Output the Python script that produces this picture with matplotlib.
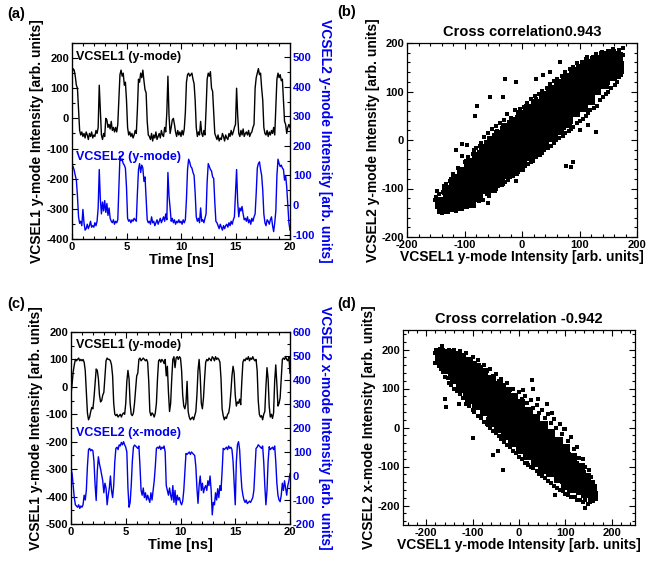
import numpy as np
import matplotlib
matplotlib.use('Agg')
import matplotlib.pyplot as plt
from matplotlib.ticker import MultipleLocator

plt.rcParams['font.family'] = ['Liberation Sans', 'DejaVu Sans']
plt.rcParams['font.weight'] = 'bold'
plt.rcParams['axes.labelweight'] = 'bold'
plt.rcParams['axes.titleweight'] = 'bold'
plt.rcParams['axes.unicode_minus'] = False

BLUE = '#0000f0'

# time axis, 0.1 ns steps
t = np.linspace(0, 20, 201)

# (a) VCSEL1 y-mode (left axis)
a_vcsel1 = [150, 165, 160, 140, 110, 100, 30, -40, -55, -45,
            -60, -50, -65, -45, -55, -70, -50, -60, -45, -65,
            -55, -60, -40, -50, -30, 110, 30, -55, -70, -50,
            -60, 0, -5, -30, -20, -35, -10, -40, -30, -45,
            -30, -45, -20, 60, 145, 160, 140, 150, 110, 120,
            60, -30, -55, -45, -60, -50, -65, -55, -40, -50,
            30, 130, 120, 150, 135, 160, 125, 95, 85, -10,
            -55, -60, -70, -50, -75, -55, -65, -45, -70, -60,
            -50, -65, -40, -55, -60, -30, -45, 20, 140, 10,
            -50, -30, -5, 0, -20, -45, -60, -40, -55, -45,
            -60, -40, -55, -35, 20, 120, 145, 150, 140, 145,
            150, 130, 115, 60, -30, -60, -45, -55, -10, -50,
            -60, -40, -55, 30, 130, 150, 140, 155, 100, 90,
            20, -50, -60, -70, -55, -75, -65, -70, -50, -60,
            -75, -55, -65, -70, -50, -60, -40, -55, -45, -30,
            -20, 100, 10, -50, -60, -40, -55, -35, -60, -50,
            -45, -55, -40, -60, -50, -45, -30, -20, 100, 135,
            150, 165, 145, 150, 100, 60, -30, -50, -55, -40,
            -60, -45, -55, -40, -50, -30, -55, 40, 130, 150,
            135, 145, 125, 130, 60, -10, -20, -50, -30, -20,
            -30]

# (a) VCSEL2 y-mode (right axis)
a_vcsel2 = [135, 130, 118, 100, 84, 30, -40, -62, -55, -70,
            -15, -60, -85, -80, -65, -80, -70, -55, -75, -70,
            -75, -60, -70, -55, -10, 120, 20, -30, 10, -20,
            15, -25, 5, -35, -10, -45, -55, -60, -50, -65,
            -55, -60, -50, 60, 165, 150, 155, 140, 135, 125,
            60, -45, -55, -50, -60, -50, -55, -45, -50, -55,
            40, 120, 140, 110, 135, 125, 80, 95, 20, -50,
            -60, -55, -65, -40, -60, -55, -70, -60, -50, -65,
            -55, -45, -60, -50, -40, -55, -30, -50, 110, 30,
            -10, -55, -45, -60, -50, -65, -55, -60, -50, -60,
            -55, -65, -50, -60, -50, 20, 120, 155, 145, 130,
            125, 110, 100, 40, -40, -55, -45, -60, -10, -55,
            -50, -60, -45, -30, 80, 140, 130, 120, 115, 95,
            90, 10, -55, -60, -70, -80, -65, -75, -85, -70,
            -80, -70, -65, -75, -60, -70, -55, -65, -50, -40,
            40, 120, 10, -40, -10, -20, -5, -30, -50, -45,
            -55, -40, -60, -50, -65, -45, -55, -40, -30, 40,
            125, 140, 146, 120, 100, 50, -30, -60, -70, -50,
            -55, -65, -50, -40, -70, -90, -60, -20, 100, 155,
            140, 130, 135, 125, 120, 84, 100, 60, 0, -60,
            -85]

# (c) VCSEL1 y-mode (left axis)
c_vcsel1 = [-30, 10, 55, 80, 100, 95, 100, 105, 95, 100,
            95, 100, 90, 60, -20, -95, -120, -110, -90, -75,
            -80, -40, 10, 65, 60, 30, -30, -55, -50, -30,
            -20, 40, 95, 105, 100, 100, 95, 80, 40, -60,
            -100, -105, -100, -110, -105, -100, -110, -100, -95, -100,
            -60, 20, 60, 30, -60, -100, -105, -95, -60, -10,
            40, 50, 100, 105, 95, 100, 105, 100, 95, 100,
            90, 20, -90, -105, -95, -100, -110, -95, -60, 30,
            95, 100, 90, 100, 95, 85, 100, 40, 75, -20,
            -90, -60, 30, 100, 110, 70, 105, 110, 100, 110,
            105, 60, -30, -70, -80, -60, 20, -90, -110, -120,
            -115, -110, -120, -105, -90, -30, 60, 100, 40, -60,
            -80, -40, 30, 90, 100, 95, 105, 100, 95, 110,
            105, 95, 110, 100, 105, 100, 90, 30, -80, -105,
            -120, -110, -115, -100, -95, -70, -20, 40, 75, 50,
            -30, -70, -55, -60, -45, -65, 20, 90, 100, 95,
            105, 100, 110, 95, 105, 100, 110, 100, 95, 100,
            60, -50, -100, -110, -105, -120, -100, -90, 0, 70,
            30, -70, -110, -100, -115, -95, 20, 80, 10, -70,
            -60, -40, 30, 100, 105, 100, 110, 100, 95, 110,
            50]

# (c) VCSEL2 x-mode (right axis)
c_vcsel2 = [30, 10, -40, -90, -120, -125, -130, -120, -135, -125,
            -130, -120, -80, -100, -60, 40, 110, 115, 105, 110,
            105, 60, -37, -102, 20, 80, 50, 30, 4, -20,
            -70, -30, -50, -120, -80, -50, 0, -60, -90, -40,
            60, 115, 120, 110, 130, 125, 140, 130, 143, 130,
            120, 100, -50, -130, -110, -40, 60, 120, 129, 125,
            120, 115, 125, 40, -60, -80, -50, -90, -70, -100,
            -80, -96, -110, -70, -100, -60, -20, 40, 115, 120,
            115, 125, 110, 120, 115, 125, 100, -40, -60, -80,
            -50, -80, -100, -40, -110, -60, -120, -80, -100, -90,
            -110, -120, -105, -60, 20, 94, 90, 95, 100, 90,
            100, 95, 90, 85, 40, -50, -114, -40, 0, -60,
            -30, -70, -50, -40, -60, -20, -40, 0, -60, -162,
            -110, -120, -70, -100, -53, -90, -40, -60, 20, 115,
            110, 115, 120, 110, 125, 115, 120, 110, 60, -30,
            -120, 60, 130, 143, 110, 20, -50, -80, -100, -110,
            -100, -115, -110, -105, -110, -100, -90, -60, 30, 115,
            120, 130, 125, 120, 115, 125, 60, -40, -120, -60,
            60, 122, 110, 115, 120, 110, 125, 60, -30, -80,
            -100, -107, -80, -30, -60, -20, -50, -80, -40, -20,
            10]

# (b) scatter, dense part of the cloud
b_core = [(-143, -127), (-139, -143),
          (-131, -104), (-128, -121), (-132, -137),
          (-118, -86), (-115, -104), (-119, -118), (-116, -135),
          (-105, -66), (-102, -83), (-106, -97), (-103, -115), (-105, -131),
          (-92, -50), (-89, -66), (-93, -81), (-90, -99), (-92, -113), (-89, -129),
          (-79, -35), (-77, -53), (-80, -67), (-76, -85), (-79, -99), (-77, -117),
          (-66, -19), (-63, -37), (-67, -51), (-64, -69), (-66, -83), (-63, -101),
          (-53, -3), (-50, -21), (-54, -35), (-51, -53), (-53, -67), (-50, -85), (-52, -99),
          (-40, 11), (-37, -7), (-41, -21), (-38, -39), (-40, -53), (-37, -71), (-39, -85),
          (-27, 25), (-24, 7), (-28, -7), (-25, -25), (-27, -39), (-24, -57), (-26, -71),
          (-14, 37), (-11, 19), (-15, 5), (-12, -13), (-14, -27), (-11, -45), (-13, -59),
          (-1, 51), (2, 33), (-2, 19), (1, 1), (-1, -13), (2, -31), (0, -47),
          (12, 63), (15, 45), (11, 31), (14, 13), (12, -1), (15, -19), (13, -33),
          (25, 75), (28, 57), (24, 43), (27, 25), (25, 11), (28, -7), (26, -21),
          (38, 89), (41, 71), (37, 57), (40, 39), (38, 25), (41, 7), (39, -7),
          (51, 101), (54, 83), (50, 69), (53, 51), (51, 37), (54, 19), (52, 7),
          (64, 113), (67, 95), (63, 81), (66, 63), (64, 49), (67, 31), (65, 21),
          (77, 125), (80, 107), (76, 93), (79, 75), (77, 61), (80, 43), (78, 35),
          (90, 137), (93, 119), (89, 105), (92, 87), (90, 73), (93, 57),
          (103, 147), (106, 129), (102, 115), (105, 97), (103, 83), (106, 69),
          (116, 157), (119, 139), (115, 125), (118, 107), (116, 93), (119, 83),
          (129, 165), (132, 147), (128, 133), (131, 115), (129, 103),
          (142, 173), (145, 155), (141, 141), (144, 123), (142, 115),
          (155, 177), (158, 159), (154, 145), (157, 131),
          (167, 171), (169, 153), (166, 141)]

# (b) scatter, loose points around the cloud
b_loose = [(-147, -106), (-136, -94), (-126, -84), (-120, -70), (-111, -58), (-100, -46),
           (-94, -36), (-86, -28), (-80, -16), (-71, -6), (-66, 6), (-59, 14), (-53, 22),
           (-46, 29), (-39, 36), (-31, 41), (-26, 54), (-19, 46), (-13, 61), (-6, 57),
           (3, 69), (9, 76), (16, 84), (22, 91), (29, 95), (35, 102), (43, 108), (49, 116),
           (56, 121), (61, 126), (69, 131), (74, 141), (83, 146), (89, 151), (96, 158),
           (104, 161), (111, 166), (121, 169), (129, 178), (139, 182), (151, 184),
           (159, 187), (168, 185), (175, 176),
           (-151, -124), (-147, -139), (-139, -151), (-129, -149), (-121, -144),
           (-111, -143), (-99, -137), (-91, -131), (-81, -124), (-71, -119), (-61, -111),
           (-49, -106), (-41, -94), (-29, -86), (-21, -77), (-9, -71), (1, -61), (11, -49),
           (19, -43), (31, -31), (39, -21), (51, -13), (59, -1), (71, 9), (81, 19),
           (89, 27), (101, 39), (111, 49), (119, 61), (131, 71), (141, 89), (149, 99),
           (161, 114), (169, 129), (174, 141),
           (-150, -118), (-144, -112), (-137, -108), (-133, -90), (-124, -96), (-120, -78),
           (-113, -75), (-108, -64), (-97, -56), (-95, -44), (-88, -42), (-84, -20),
           (-75, -24), (-73, -12), (-62, -4), (-57, 4), (-48, 10), (-44, 18), (-35, 24),
           (-32, 30), (-22, 38), (-17, 30), (-8, 48), (-3, 64), (6, 62), (11, 70), (19, 74),
           (24, 84), (33, 88), (40, 96), (46, 100), (52, 110), (60, 112), (66, 122),
           (72, 128), (79, 134), (86, 140), (94, 147), (100, 152), (108, 156), (113, 172),
           (125, 162), (135, 172), (146, 176), (163, 180), (172, 168),
           (-146, -133), (-135, -146), (-125, -140), (-115, -146), (-105, -142),
           (-95, -138), (-85, -134), (-75, -126), (-67, -124), (-57, -116), (-45, -100),
           (-35, -92), (-25, -82), (-15, -74), (-5, -62), (6, -54), (16, -46), (24, -36),
           (35, -26), (45, -16), (55, -6), (64, 4), (75, 14), (85, 22), (95, 36), (106, 44),
           (115, 56), (125, 66), (136, 82), (146, 94), (155, 108), (165, 120), (172, 133),
           (-79, 71), (-81, 50), (-56, 89), (-33, 88), (-30, 126), (-104, -8),
           (-105, -32), (76, -53), (85, -56), (88, -46), (129, 17), (-10, -84),
           (-59, -129), (-10, 119), (25, 126), (37, 133), (48, 140), (66, 160),
           (176, 189), (-95, -10), (-115, -20), (115, 30), (100, 20)]

# (d) scatter, dense part of the cloud
d_core = [(-171, 191), (-168, 172),
          (-156, 188), (-153, 170), (-157, 151),
          (-141, 183), (-138, 163), (-142, 145), (-139, 125),
          (-125, 177), (-122, 157), (-126, 139), (-123, 119), (-125, 101),
          (-109, 169), (-106, 149), (-110, 131), (-107, 111), (-109, 93), (-106, 73),
          (-93, 153), (-90, 133), (-94, 115), (-91, 95), (-93, 77), (-90, 57),
          (-77, 139), (-74, 119), (-78, 101), (-75, 81), (-77, 63), (-74, 43),
          (-61, 123), (-58, 103), (-62, 85), (-59, 65), (-61, 47), (-58, 27), (-60, 14),
          (-45, 107), (-42, 87), (-46, 69), (-43, 49), (-45, 31), (-42, 11), (-44, -2),
          (-29, 91), (-26, 71), (-30, 53), (-27, 33), (-29, 15), (-26, -5), (-28, -20),
          (-13, 75), (-10, 55), (-14, 37), (-11, 17), (-13, -1), (-10, -21), (-12, -36),
          (3, 59), (6, 39), (2, 21), (5, 1), (3, -17), (6, -37), (4, -54),
          (19, 41), (22, 21), (18, 3), (21, -17), (19, -35), (22, -55), (20, -70),
          (35, 23), (38, 3), (34, -15), (37, -35), (35, -53), (38, -73), (36, -88),
          (51, 3), (54, -17), (50, -35), (53, -55), (51, -73), (54, -93), (52, -106),
          (67, -17), (70, -37), (66, -55), (69, -75), (67, -93), (70, -113),
          (83, -37), (86, -57), (82, -75), (85, -95), (83, -113), (86, -130),
          (99, -55), (102, -75), (98, -93), (101, -113), (99, -131), (102, -148),
          (115, -79), (118, -99), (114, -117), (117, -137), (115, -155),
          (131, -103), (134, -123), (130, -141), (133, -161),
          (145, -129), (148, -149), (144, -167),
          (157, -157), (159, -176)]

# (d) scatter, loose points around the cloud
d_loose = [(-182, 192), (-175, 200), (-165, 208), (-150, 200), (-140, 198), (-128, 195),
           (-115, 190), (-100, 180), (-88, 172), (-75, 160), (-62, 150), (-50, 138),
           (-38, 125), (-25, 115), (-12, 100), (0, 92), (12, 80), (25, 70), (38, 58),
           (50, 45), (62, 35), (75, 22), (88, 10), (100, -5), (112, -25), (125, -50),
           (138, -80), (150, -110), (160, -140),
           (-180, 165), (-168, 150), (-160, 130), (-150, 115), (-140, 100), (-128, 85),
           (-115, 60), (-100, 45), (-88, 30), (-75, 15), (-62, 0), (-50, -15), (-38, -30),
           (-25, -45), (-12, -60), (0, -75), (12, -90), (25, -100), (38, -112), (50, -125),
           (62, -138), (75, -150), (88, -160), (100, -170), (112, -178), (125, -185),
           (138, -192), (148, -195), (160, -188),
           (-178, 198), (-170, 202), (-160, 196), (-146, 194), (-134, 190), (-120, 184),
           (-106, 176), (-94, 166), (-82, 156), (-68, 146), (-56, 132), (-44, 120),
           (-32, 108), (-20, 96), (-6, 84), (6, 74), (18, 62), (30, 50), (44, 38), (56, 24),
           (68, 12), (80, 0), (92, -16), (106, -34), (118, -56), (130, -78), (142, -100),
           (155, -128), (163, -152),
           (-176, 176), (-172, 158), (-164, 142), (-154, 128), (-146, 110), (-134, 94),
           (-120, 76), (-108, 56), (-96, 40), (-82, 24), (-68, 8), (-56, -8), (-44, -22),
           (-32, -38), (-20, -50), (-6, -66), (6, -80), (18, -92), (30, -104), (44, -118),
           (56, -130), (68, -142), (82, -154), (94, -164), (106, -172), (120, -178),
           (132, -186), (142, -186), (154, -190),
           (-160, 74), (-157, 53), (-99, -28), (-56, -71), (-34, -109), (27, 121), (9, 95),
           (42, 74), (71, 36), (96, -3), (143, -207), (78, -173), (20, -96), (-175, 180),
           (-130, 60), (-45, -60), (60, 60), (30, 100)]

W, H = 657, 567
fig = plt.figure(figsize=(W / 100, H / 100), dpi=100)


def box(l, t_, r, b):
    return [l / W, 1 - b / H, (r - l) / W, (b - t_) / H]


def style(ax, xmaj, xmin, ymaj, ymin, right=True):
    ax.xaxis.set_major_locator(MultipleLocator(xmaj))
    ax.xaxis.set_minor_locator(MultipleLocator(xmin))
    ax.yaxis.set_major_locator(MultipleLocator(ymaj))
    ax.yaxis.set_minor_locator(MultipleLocator(ymin))
    ax.tick_params(which='both', direction='in', top=True, right=right,
                   labelsize=8, pad=2, width=0.8)
    ax.tick_params(which='major', length=4)
    ax.tick_params(which='minor', length=2)
    for s in ax.spines.values():
        s.set_linewidth(0.9)


def twin_style(ax):
    ax.yaxis.set_major_locator(MultipleLocator(100))
    ax.yaxis.set_minor_locator(MultipleLocator(50))
    ax.tick_params(which='both', direction='in', labelsize=8, pad=2, width=0.8,
                   labelcolor=BLUE)
    ax.tick_params(which='major', length=4)
    ax.tick_params(which='minor', length=2)


# ---- (a) time traces, y-mode / y-mode
ax_a = fig.add_axes(box(72, 43, 290, 239))
ax_a.plot(t, a_vcsel1, color='k', lw=1.0)
ax_a.set_xlim(0, 20)
ax_a.set_ylim(-400, 250)
style(ax_a, 5, 1, 100, 50, right=False)
ax_a.set_xlabel('Time [ns]', fontsize=10.5, labelpad=1)
ax_a.set_ylabel('VCSEL1 y-mode Intensity [arb. units]', fontsize=10, labelpad=2)
ax_a.text(0.018, 0.929, 'VCSEL1 (y-mode)', transform=ax_a.transAxes, fontsize=9, va='center')
ax_a.text(0.018, 0.418, 'VCSEL2 (y-mode)', transform=ax_a.transAxes, fontsize=9,
          va='center', color=BLUE)
ax_a2 = ax_a.twinx()
ax_a2.plot(t, a_vcsel2, color=BLUE, lw=1.0)
ax_a2.set_ylim(-115, 548)
twin_style(ax_a2)
ax_a2.set_ylabel('VCSEL2 y-mode Intensity [arb. units]', fontsize=10, color=BLUE,
                 rotation=270, va='bottom', labelpad=2)

# ---- (b) scatter
ax_b = fig.add_axes(box(407, 43, 637, 237))
bx, by = zip(*b_core)
ax_b.scatter(bx, by, s=50, c='k', marker='s', linewidths=0)
bx, by = zip(*b_loose)
ax_b.scatter(bx, by, s=6, c='k', marker='s', linewidths=0)
ax_b.set_xlim(-200, 200)
ax_b.set_ylim(-200, 200)
style(ax_b, 100, 20, 100, 20)
ax_b.tick_params(axis='x', pad=2.5)
ax_b.set_title('Cross correlation0.943', fontsize=10.5, pad=5)
ax_b.set_xlabel('VCSEL1 y-mode Intensity [arb. units]', fontsize=10, labelpad=0)
ax_b.set_ylabel('VCSEL2 y-mode Intensity [arb. units]', fontsize=10, labelpad=1)

# ---- (c) time traces, y-mode / x-mode
ax_c = fig.add_axes(box(71, 332, 290, 524))
ax_c.plot(t, c_vcsel1, color='k', lw=1.0)
ax_c.set_xlim(0, 20)
ax_c.set_ylim(-500, 200)
style(ax_c, 5, 1, 100, 50, right=False)
ax_c.set_xlabel('Time [ns]', fontsize=10.5, labelpad=1)
ax_c.set_ylabel('VCSEL1 y-mode Intensity [arb. units]', fontsize=10, labelpad=2)
ax_c.text(0.023, 0.931, 'VCSEL1 (y-mode)', transform=ax_c.transAxes, fontsize=9, va='center')
ax_c.text(0.023, 0.475, 'VCSEL2 (x-mode)', transform=ax_c.transAxes, fontsize=9,
          va='center', color=BLUE)
ax_c2 = ax_c.twinx()
ax_c2.plot(t, c_vcsel2, color=BLUE, lw=1.0)
ax_c2.set_ylim(-200, 600)
twin_style(ax_c2)
ax_c2.set_ylabel('VCSEL2 x-mode Intensity [arb. units]', fontsize=10, color=BLUE,
                 rotation=270, va='bottom', labelpad=2)

# ---- (d) scatter
ax_d = fig.add_axes(box(403, 330, 635, 525))
dx, dy = zip(*d_core)
ax_d.scatter(dx, dy, s=50, c='k', marker='s', linewidths=0)
dx, dy = zip(*d_loose)
ax_d.scatter(dx, dy, s=6, c='k', marker='s', linewidths=0)
ax_d.set_xlim(-250, 250)
ax_d.set_ylim(-250, 250)
style(ax_d, 100, 20, 100, 20)
ax_d.tick_params(axis='x', pad=2.5)
ax_d.set_title('Cross correlation -0.942', fontsize=10.5, pad=5)
ax_d.set_xlabel('VCSEL1 y-mode Intensity [arb. units]', fontsize=10, labelpad=0)
ax_d.set_ylabel('VCSEL2 x-mode Intensity [arb. units]', fontsize=10, labelpad=1)

# panel letters
for x0, y0, s in [(7, 14, '(a)'), (337, 12, '(b)'), (7, 304, '(c)'), (337, 304, '(d)')]:
    fig.text(x0 / W, 1 - y0 / H, s, fontsize=10.5, va='center', ha='left')

fig.savefig('out.png', dpi=100)
